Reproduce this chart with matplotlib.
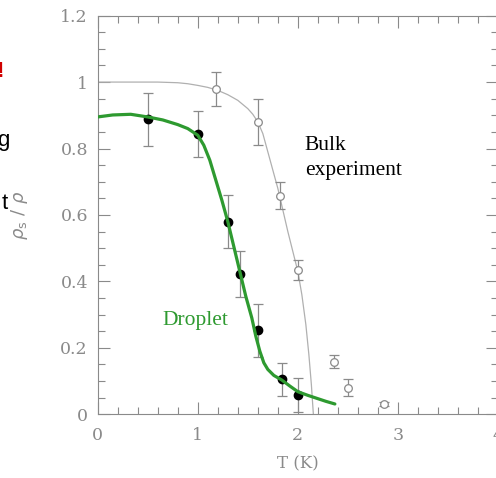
import matplotlib

matplotlib.use("Agg")
import matplotlib.pyplot as plt
from matplotlib.ticker import MultipleLocator

# bulk experiment (open circles) and its guide curve
bulk_T = [1.18, 1.6, 1.82, 2.0, 2.36, 2.5, 2.86]
bulk_rho = [0.979, 0.88, 0.658, 0.433, 0.158, 0.08, 0.03]
bulk_err = [0.05, 0.07, 0.04, 0.03, 0.02, 0.025, 0.006]
bulk_curve_T = [0.0, 0.6, 0.8, 0.9, 1.0, 1.1, 1.2, 1.3, 1.4, 1.5, 1.55, 1.6, 1.65, 1.7,
                1.75, 1.8, 1.85, 1.9, 1.95, 2.0, 2.04, 2.08, 2.11, 2.135, 2.155]
bulk_curve_rho = [1.0, 1.0, 0.998, 0.995, 0.99, 0.984, 0.975, 0.962, 0.945, 0.92, 0.903,
                  0.88, 0.845, 0.79, 0.735, 0.68, 0.615, 0.55, 0.49, 0.43, 0.36, 0.27,
                  0.18, 0.09, 0.0]

# droplet data (filled circles) and fitted curve
drop_T = [0.5, 1.0, 1.3, 1.42, 1.6, 1.84, 2.0]
drop_rho = [0.888, 0.843, 0.58, 0.423, 0.253, 0.105, 0.058]
drop_err = [0.08, 0.07, 0.08, 0.07, 0.08, 0.05, 0.05]
drop_curve_T = [0.0, 0.15, 0.33, 0.5, 0.65, 0.8, 0.9, 1.0, 1.06, 1.12, 1.18, 1.24, 1.3,
                1.36, 1.42, 1.48, 1.54, 1.58, 1.62, 1.66, 1.7, 1.76, 1.84, 1.92, 2.0,
                2.1, 2.19, 2.28, 2.37]
drop_curve_rho = [0.895, 0.901, 0.903, 0.895, 0.886, 0.872, 0.86, 0.84, 0.81, 0.765,
                  0.705, 0.645, 0.58, 0.505, 0.43, 0.355, 0.29, 0.235, 0.19, 0.155,
                  0.135, 0.117, 0.103, 0.085, 0.068, 0.057, 0.048, 0.039, 0.031]

GRAY = "#8a8a8a"
GREEN = "#2e9a30"

fig = plt.figure(figsize=(4.96, 4.78), dpi=100)
ax = fig.add_axes([0.197, 0.1333, 0.807, 0.834])

ax.plot(bulk_curve_T, bulk_curve_rho, color="#b0b0b0", lw=0.9)
ax.errorbar(bulk_T, bulk_rho, yerr=bulk_err, fmt="o", mfc="white", mec=GRAY, ms=5.5,
            mew=0.9, ecolor=GRAY, elinewidth=0.9, capsize=3.5, capthick=0.9)

ax.errorbar(drop_T, drop_rho, yerr=drop_err, fmt="o", color="black", ms=6,
            ecolor=GRAY, elinewidth=0.9, capsize=3.5, capthick=0.9, zorder=3)
ax.plot(drop_curve_T, drop_curve_rho, color=GREEN, lw=2.3, zorder=4,
        solid_capstyle="round", solid_joinstyle="round")

ax.set_xlim(0, 4)
ax.set_ylim(0, 1.2)
ax.xaxis.set_major_locator(MultipleLocator(1))
ax.xaxis.set_minor_locator(MultipleLocator(0.2))
ax.yaxis.set_major_locator(MultipleLocator(0.2))
ax.yaxis.set_minor_locator(MultipleLocator(0.05))
ax.xaxis.set_major_formatter(plt.FuncFormatter(lambda v, p: f"{v:g}"))
ax.yaxis.set_major_formatter(plt.FuncFormatter(lambda v, p: f"{v:g}"))

ax.tick_params(which="both", direction="in", top=True, right=True, color=GRAY,
               width=0.8, labelcolor=GRAY, labelsize=12.5)
ax.tick_params(which="major", length=8.6)
ax.tick_params(which="minor", length=4.7)
ax.tick_params(axis="x", pad=9)
ax.tick_params(axis="y", pad=7)
for lab in ax.get_xticklabels() + ax.get_yticklabels():
    lab.set_family("DejaVu Serif")
for s in ax.spines.values():
    s.set_color(GRAY)
    s.set_linewidth(0.8)

ax.set_xlabel("T (K)", color=GRAY, family="DejaVu Serif", fontsize=12, labelpad=8)
fig.text(20 / 496, 1 - 215 / 478, r"$\rho_{\rm s}\ /\ \rho$", rotation=90, color=GRAY,
         fontsize=13, ha="center", va="center")

ax.text(2.07, 0.705, "Bulk\nexperiment", family="Liberation Serif", fontsize=15.5,
        color="black", ha="left", va="bottom", linespacing=1.45)
ax.text(0.65, 0.255, "Droplet", family="Liberation Serif", fontsize=15.5,
        color=GREEN, ha="left", va="bottom")

# cut-off slide text at the left edge
fig.text(4 / 496, 1 - 77 / 478, "!", color="#d00000", fontsize=16, fontweight="bold",
         family="Liberation Sans", ha="right", va="baseline")
fig.text(9 / 496, 1 - 146 / 478, "g", color="black", fontsize=16,
         family="Liberation Sans", ha="right", va="baseline")
fig.text(8 / 496, 1 - 209 / 478, "t", color="black", fontsize=16,
         family="Liberation Sans", ha="right", va="baseline")

fig.savefig("out.png", dpi=100)
